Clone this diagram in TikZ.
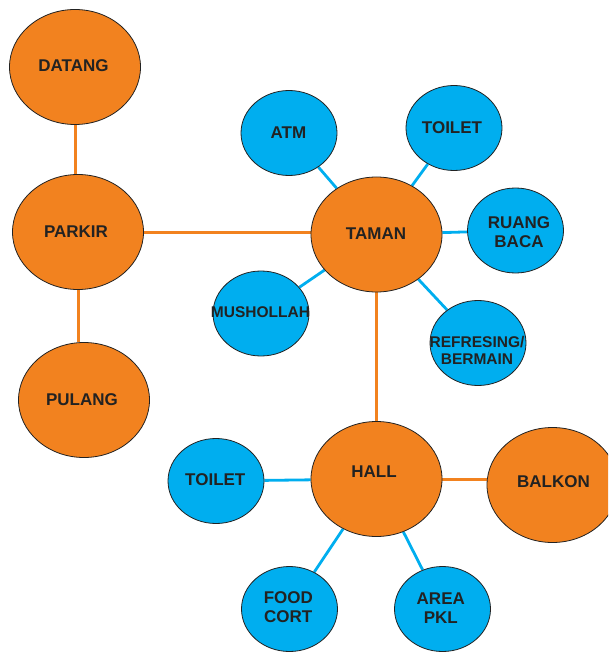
\documentclass[tikz,border=0pt]{standalone}
\usepackage{fontspec}
\setmainfont{Liberation Sans}
\usetikzlibrary{shapes.geometric,backgrounds}
\definecolor{hub}{HTML}{F2821F}
\definecolor{spot}{HTML}{00AEEF}
\definecolor{ink}{HTML}{222222}
\tikzset{
  place/.style={ellipse, draw=ink, line width=0.8pt, inner sep=0pt},
  big/.style={place, fill=hub, minimum width=131pt, minimum height=115pt},
  small/.style={place, fill=spot, minimum width=96pt, minimum height=85pt},
  tag/.style={inner sep=0pt, align=center, text=ink, font=\fontsize{17}{19}\selectfont\bfseries},
  tagsm/.style={tag, font=\fontsize{15.5}{17}\selectfont\bfseries},
  mainlink/.style={draw=hub, line width=3pt},
  sidelink/.style={draw=spot, line width=2.8pt},
}
\begin{document}
\begin{tikzpicture}[x=1pt,y=-1pt]
\useasboundingbox (0,0) rectangle (608,652);
\clip (0,0) rectangle (608,652);

% main route (orange)
\node[big] (datang) at (75,67) {};
\node[big] (parkir) at (78,232) {};
\node[big] (pulang) at (84,400) {};
\node[big] (taman)  at (376.5,234.5) {};
\node[big] (hall)   at (376.5,479) {};
\node[big] (balkon) at (552.5,485) {};

% facilities (blue)
\node[small] (atm)       at (289,133) {};
\node[small] (toiletA)   at (454,128) {};
\node[small] (baca)      at (515.5,230.5) {};
\node[small] (mushollah) at (261,313.5) {};
\node[small] (main)      at (478,343) {};
\node[small] (toiletB)   at (216,481) {};
\node[small] (food)      at (289.5,609) {};
\node[small] (pkl)       at (442.5,609) {};

% labels
\node[tag] (t-datang) at (73.5,65.5) {DATANG};
\node[tag] (t-parkir) at (76,231.5) {PARKIR};
\node[tag] (t-pulang) at (82,400) {PULANG};
\node[tag] (t-taman)  at (376,233.5) {TAMAN};
\node[tag] (t-hall)   at (374,471.5) {HALL};
\node[tag] (t-balkon) at (553.5,481.5) {BALKON};
\node[tag] (t-atm)    at (288.5,133) {ATM};
\node[tag] (t-toiletA) at (452,127.5) {TOILET};
\node[tag] (t-baca)   at (519,232) {RUANG\\BACA};
\node[tagsm] (t-mushollah) at (260.5,312) {MUSHOLLAH};
\node[tagsm] (t-main) at (477,350.5) {REFRESING/\\BERMAIN};
\node[tag] (t-toiletB) at (215.3,479.5) {TOILET};
\node[tag] (t-food)   at (288.3,607.5) {FOOD\\CORT};
\node[tag] (t-pkl)    at (440.8,608.5) {AREA\\PKL};

\begin{scope}[on background layer]
  \draw[mainlink] (datang) -- (datang |- parkir.north);
  \draw[mainlink] (parkir.south) -- (parkir.south |- pulang.north);
  \draw[mainlink] (parkir.east) -- (taman.west |- parkir.east);
  \draw[mainlink] (taman) -- (hall);
  \draw[mainlink] (hall.east) -- (balkon.west |- hall.east);

  \draw[sidelink] (atm) -- (taman);
  \draw[sidelink] (toiletA) -- (taman);
  \draw[sidelink] (baca) -- (taman);
  \draw[sidelink] (mushollah) -- (taman);
  \draw[sidelink] (main) -- (taman);
  \draw[sidelink] (toiletB) -- (hall);
  \draw[sidelink] (food) -- (hall);
  \draw[sidelink] (pkl) -- (hall);
\end{scope}
\end{tikzpicture}
\end{document}
